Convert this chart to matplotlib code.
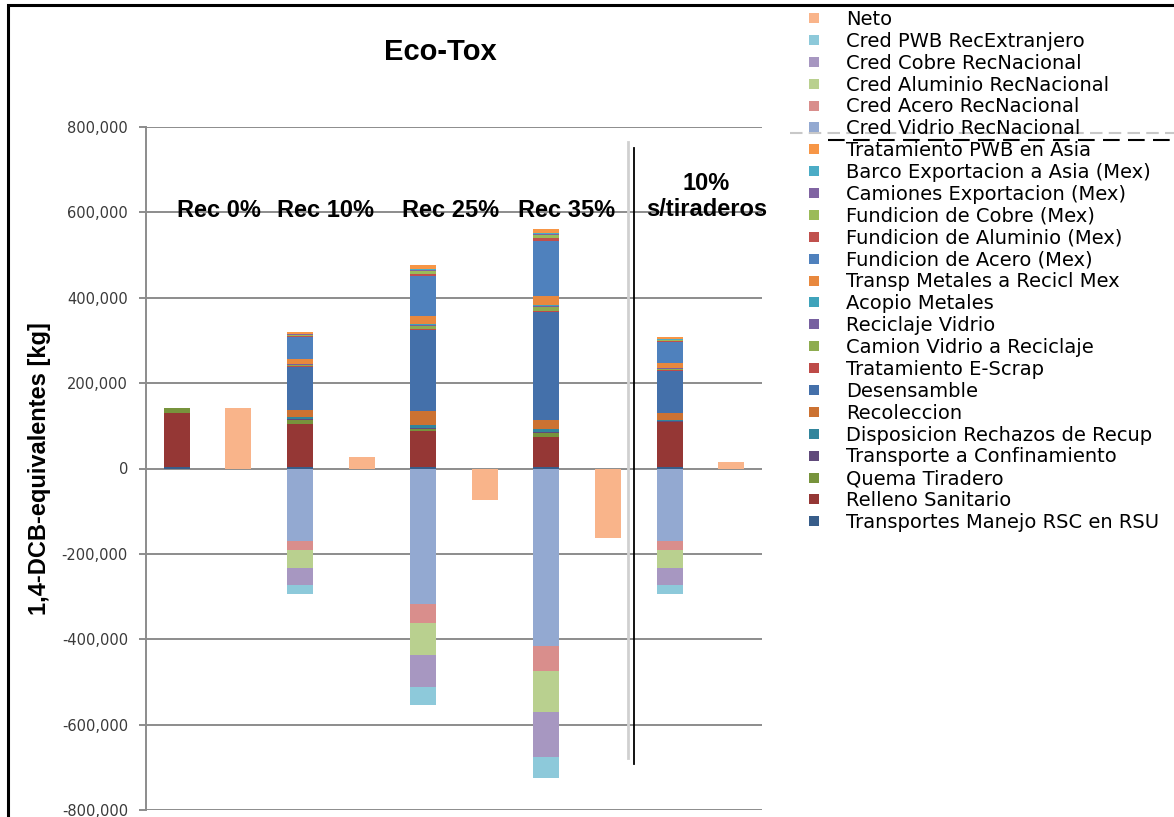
import numpy as np
import matplotlib.pyplot as plt
from matplotlib.lines import Line2D
from matplotlib.patches import Rectangle
from matplotlib.ticker import FuncFormatter

escenarios = ['Rec 0%', 'Rec 10%', 'Rec 25%', 'Rec 35%', '10%\ns/tiraderos']

# cargas por proceso [kg 1,4-DCB eq], un valor por escenario
transportes_rsu   = [4000, 4000, 3000, 3000, 4000]
relleno           = [125000, 101000, 84000, 70000, 105000]
quema_tiradero    = [12000, 9000, 6000, 10000, 0]
transp_confin     = [0, 2000, 3000, 3000, 2000]
disp_rechazos     = [0, 5000, 5000, 7000, 2000]
recoleccion       = [0, 17000, 33000, 20000, 16000]
desensamble       = [0, 100000, 190000, 254000, 100000]
trat_escrap       = [0, 1000, 3000, 3000, 1000]
camion_vidrio     = [0, 4000, 6000, 9000, 4000]
reciclaje_vidrio  = [0, 1000, 2000, 2000, 1000]
acopio_metales    = [0, 1000, 3000, 3000, 1000]
transp_metales    = [0, 11000, 19000, 20000, 10000]
fund_acero        = [0, 52000, 93000, 130000, 50000]
fund_aluminio     = [0, 2000, 6000, 5000, 2000]
fund_cobre        = [0, 3000, 6000, 7000, 3000]
camiones_export   = [0, 1000, 3000, 3000, 1000]
barco_asia        = [0, 1000, 2000, 2000, 1000]
trat_pwb_asia     = [0, 5000, 9000, 9000, 6000]

# creditos por reciclaje (negativos)
cred_vidrio   = [0, -169000, -317000, -415000, -169000]
cred_acero    = [0, -23000, -45000, -60000, -23000]
cred_aluminio = [0, -42000, -74000, -96000, -42000]
cred_cobre    = [0, -38000, -75000, -104000, -38000]
cred_pwb      = [0, -22000, -43000, -50000, -22000]

neto = [141000, 26000, -74000, -162000, 15000]

positivos = [
    ('Transportes Manejo RSC en RSU', transportes_rsu, '#385d8a'),
    ('Relleno Sanitario', relleno, '#953735'),
    ('Quema Tiradero', quema_tiradero, '#77933c'),
    ('Transporte a Confinamiento', transp_confin, '#604a7b'),
    ('Disposicion Rechazos de Recup', disp_rechazos, '#31859c'),
    ('Recoleccion', recoleccion, '#cc7232'),
    ('Desensamble', desensamble, '#4470aa'),
    ('Tratamiento E-Scrap', trat_escrap, '#be4b48'),
    ('Camion Vidrio a Reciclaje', camion_vidrio, '#8eac50'),
    ('Reciclaje Vidrio', reciclaje_vidrio, '#7760a0'),
    ('Acopio Metales', acopio_metales, '#3fa3bb'),
    ('Transp Metales a Recicl Mex', transp_metales, '#e8883e'),
    ('Fundicion de Acero (Mex)', fund_acero, '#4f81bd'),
    ('Fundicion de Aluminio (Mex)', fund_aluminio, '#c0504d'),
    ('Fundicion de Cobre (Mex)', fund_cobre, '#9bbb59'),
    ('Camiones Exportacion (Mex)', camiones_export, '#8064a2'),
    ('Barco Exportacion a Asia (Mex)', barco_asia, '#4bacc6'),
    ('Tratamiento PWB en Asia', trat_pwb_asia, '#f79646'),
]
negativos = [
    ('Cred Vidrio RecNacional', cred_vidrio, '#93a9d1'),
    ('Cred Acero RecNacional', cred_acero, '#d98e8c'),
    ('Cred Aluminio RecNacional', cred_aluminio, '#b9d08f'),
    ('Cred Cobre RecNacional', cred_cobre, '#a797c1'),
    ('Cred PWB RecExtranjero', cred_pwb, '#8dc9da'),
]
color_neto = '#f9b48a'

fig = plt.figure(figsize=(11.74, 8.17), dpi=100)
ax = fig.add_axes([146 / 1174, 7 / 817, 616 / 1174, 683 / 817])

x_pilas = np.arange(len(escenarios)) * 2
x_neto = x_pilas + 1
ancho = 0.42

base = np.zeros(len(escenarios))
for nombre, vals, color in positivos:
    ax.bar(x_pilas, vals, ancho, bottom=base, color=color, linewidth=0)
    base += np.array(vals)
base = np.zeros(len(escenarios))
for nombre, vals, color in negativos:
    ax.bar(x_pilas, vals, ancho, bottom=base, color=color, linewidth=0)
    base += np.array(vals)
ax.bar(x_neto, neto, ancho, color=color_neto, linewidth=0)

ax.set_xlim(-0.5, 9.5)
ax.set_ylim(-800000, 800000)
ax.set_yticks(np.arange(-800000, 800001, 200000))
ax.yaxis.set_major_formatter(FuncFormatter(lambda v, p: '{:,.0f}'.format(v)))
ax.set_xticks([])
ax.yaxis.grid(True, color='#8c8c8c', linewidth=1.4)
ax.set_axisbelow(True)
for s in ['top', 'right', 'bottom']:
    ax.spines[s].set_visible(False)
ax.spines['left'].set_color('#8c8c8c')
ax.spines['left'].set_linewidth(1.4)
ax.tick_params(axis='y', length=5, width=1.4, color='#8c8c8c',
               labelsize=10.5, labelcolor='#3a3a3a', pad=8)
ax.set_ylabel('1,4-DCB-equivalentes [kg]', fontsize=17, fontweight='bold',
              family='Liberation Sans', labelpad=8)

# separador del escenario sin tiraderos
ax.plot([7.32, 7.32], [765000, -678000], color='#d0d0d0', lw=2, clip_on=False)
ax.plot([7.42, 7.42], [751000, -692000], color='black', lw=1.3, clip_on=False)

etiquetas_x = [0.68, 2.42, 4.45, 6.33, 8.6]
for xe, txt in zip(etiquetas_x, escenarios):
    # las etiquetas de dos renglones quedan con el segundo renglon alineado
    ye = 605000 + 33000 * txt.count('\n')
    ax.text(xe, ye, txt, ha='center', va='center', fontsize=17,
            fontweight='bold', family='Liberation Sans', linespacing=1.15)

fig.text(440 / 1174, 1 - 52 / 817, 'Eco-Tox', ha='center', va='center',
         fontsize=21, fontweight='bold', family='Liberation Sans')

# leyenda
handles = [Line2D([], [], marker='s', ls='', markersize=7.5,
                  markerfacecolor=color_neto, markeredgewidth=0)]
labels = ['Neto']
for nombre, vals, color in negativos[::-1] + positivos[::-1]:
    handles.append(Line2D([], [], marker='s', ls='', markersize=7.5,
                          markerfacecolor=color, markeredgewidth=0))
    labels.append(nombre)
fig.legend(handles, labels, loc='upper left', bbox_to_anchor=(799 / 1174, 1 - 6 / 817),
           frameon=False, labelspacing=0.148, handletextpad=1.05,
           handlelength=1.15, borderpad=0.2, borderaxespad=0,
           prop={'family': 'DejaVu Sans', 'size': 14})

fig.lines.append(Line2D([790 / 1174, 1], [1 - 133 / 817] * 2, transform=fig.transFigure,
                        color='#c8c8c8', lw=1.5, ls=(0, (6, 3))))
fig.lines.append(Line2D([828 / 1174, 1], [1 - 140 / 817] * 2, transform=fig.transFigure,
                        color='black', lw=1.5, ls=(0, (8, 4))))

fig.patches.append(Rectangle((8 / 1174, -0.1), 1.2, 0.1 + 812 / 817, transform=fig.transFigure,
                             fill=False, edgecolor='black', lw=2.2))

fig.savefig('out.png', dpi=100)
